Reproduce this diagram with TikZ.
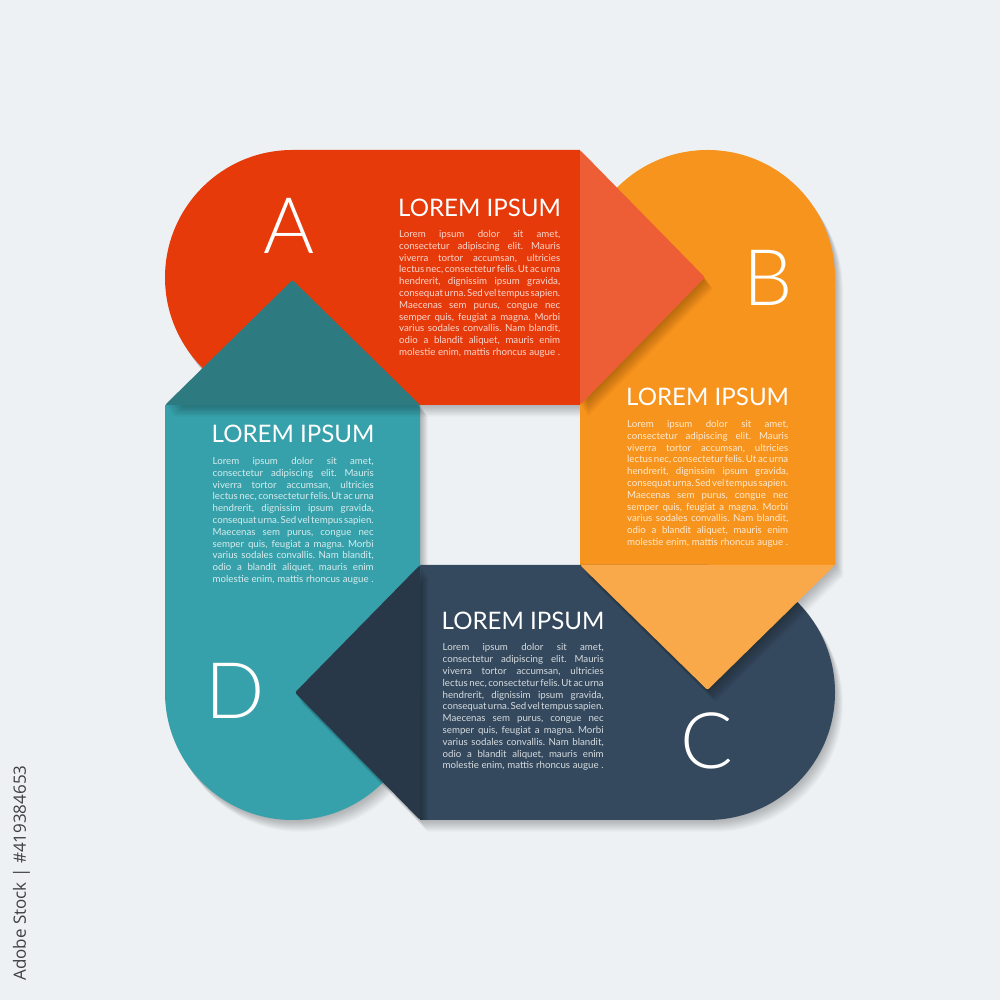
\documentclass[tikz,border=0pt]{standalone}
\usepackage{fontspec}
\setmainfont{Lato}
\newfontfamily\latolight{Lato Light}
\newfontfamily\idfont{Open Sans}
\definecolor{bg}{HTML}{EEF1F4}
\definecolor{redA}{HTML}{E63A0B}
\definecolor{redAh}{HTML}{ED5E36}
\definecolor{orB}{HTML}{F7941D}
\definecolor{orBh}{HTML}{F9A84A}
\definecolor{navC}{HTML}{34495E}
\definecolor{navCh}{HTML}{283849}
\definecolor{tealD}{HTML}{37A1AB}
\definecolor{tealDh}{HTML}{2D7B81}
\newcommand{\softshadow}[1]{%
  \foreach \k in {1,...,16}{\fill[black,opacity=0.016,shift={(0.5*\k,-0.75*\k)}] #1;}}
\newcommand{\lorembody}{\vtop{\fontsize{9.7}{11.8}\selectfont\baselineskip=11.8pt
\frenchspacing\spaceskip=0.2em plus 2em minus 0.09em
\hbox to 161pt{Lorem ipsum dolor sit amet,}
\hbox to 161pt{consectetur adipiscing elit. Mauris}
\hbox to 161pt{viverra tortor accumsan, ultricies}
\hbox to 161pt{lectus nec, consectetur felis. Ut ac urna}
\hbox to 161pt{hendrerit, dignissim ipsum gravida,}
\hbox to 161pt{consequat urna. Sed vel tempus sapien.}
\hbox to 161pt{Maecenas sem purus, congue nec}
\hbox to 161pt{semper quis, feugiat a magna. Morbi}
\hbox to 161pt{varius sodales convallis. Nam blandit,}
\hbox to 161pt{odio a blandit aliquet, mauris enim}
\hbox to 161pt{molestie enim, mattis rhoncus augue .}}}
\tikzset{
  title/.style={anchor=base west,inner sep=0pt,text=white,font=\fontsize{24.1}{25}\selectfont},
  bodytxt/.style={anchor=base west,inner sep=0pt},
  bigletter/.style={anchor=base,inner sep=0pt,text=white,font=\latolight\fontsize{78}{80}\selectfont}
}
\begin{document}
\begin{tikzpicture}[x=1pt,y=1pt]
\fill[bg] (0,0) rectangle (1000,1000);
\useasboundingbox (0,0) rectangle (1000,1000);
% body shadows
\softshadow{(580,850) -- (292.5,850) arc[start angle=90,end angle=270,radius=127.5] -- (580,595) -- cycle}
\softshadow{(580,435) -- (580,722.5) arc[start angle=180,end angle=0,radius=127.5] -- (835,435) -- cycle}
\softshadow{(420,435) -- (707.5,435) arc[start angle=90,end angle=-90,radius=127.5] -- (420,180) -- cycle}
\softshadow{(420,595) -- (420,307.5) arc[start angle=0,end angle=-180,radius=127.5] -- (165,595) -- cycle}
% bodies
\fill[redA] (580,850) -- (292.5,850) arc[start angle=90,end angle=270,radius=127.5] -- (580,595) -- cycle;
\fill[orB] (580,435) -- (580,722.5) arc[start angle=180,end angle=0,radius=127.5] -- (835,435) -- cycle;
\fill[navC] (420,435) -- (707.5,435) arc[start angle=90,end angle=-90,radius=127.5] -- (420,180) -- cycle;
\fill[tealD] (420,595) -- (420,307.5) arc[start angle=0,end angle=-180,radius=127.5] -- (165,595) -- cycle;
% arrow heads
\softshadow{(580,850) -- (705,722.5) -- (580,595) -- cycle}
\fill[redAh,rounded corners=2pt] (580,850) -- (705,722.5) -- (580,595) -- cycle;
\softshadow{(580,435) -- (707.5,310) -- (835,435) -- cycle}
\fill[orBh,rounded corners=2pt] (580,435) -- (707.5,310) -- (835,435) -- cycle;
\softshadow{(420,435) -- (295,307.5) -- (420,180) -- cycle}
\fill[navCh,rounded corners=2pt] (420,435) -- (295,307.5) -- (420,180) -- cycle;
\softshadow{(165,595) -- (292.5,720) -- (420,595) -- cycle}
\fill[tealDh,rounded corners=2pt] (165,595) -- (292.5,720) -- (420,595) -- cycle;
% texts A
\node[bigletter] (letterA) at (289,746) {A};
\node[title] (titleA) at (398,783) {LOREM IPSUM};
\node[bodytxt,text=white!80!redA] (bodyA) at (399,762.5) {\lorembody};
% texts B
\node[bigletter] (letterB) at (768.5,694) {B};
\node[title] (titleB) at (626,594) {LOREM IPSUM};
\node[bodytxt,text=white!80!orB] (bodyB) at (627,572.5) {\lorembody};
% texts C
\node[bigletter] (letterC) at (707,231.5) {C};
\node[title] (titleC) at (441.5,370.5) {LOREM IPSUM};
\node[bodytxt,text=white!80!navC] (bodyC) at (442.5,349) {\lorembody};
% texts D
\node[bigletter] (letterD) at (235.5,281) {D};
\node[title] (titleD) at (211.5,557) {LOREM IPSUM};
\node[bodytxt,text=white!80!tealD] (bodyD) at (212.5,535.5) {\lorembody};
% stock id
\node[rotate=90,inner sep=0pt,text=black!75,font=\idfont\fontsize{17}{17}\selectfont] (stockid) at (21.5,127) {Adobe Stock | \#419384653};
\end{tikzpicture}
\end{document}
